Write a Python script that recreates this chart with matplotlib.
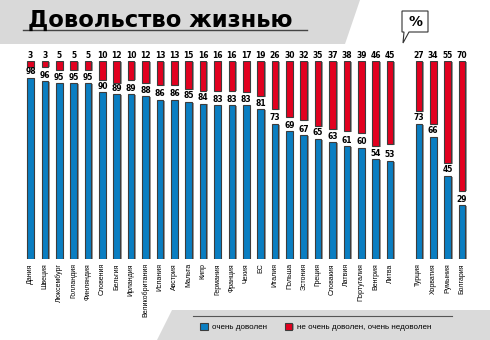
import matplotlib.pyplot as plt
import matplotlib.patheffects as pe
from matplotlib.patches import Polygon

# Данные: доля довольных / недовольных жизнью, %
countries = ['Дания', 'Швеция', 'Люксембург', 'Голландия', 'Финляндия', 'Словения',
             'Бельгия', 'Ирландия', 'Великобритания', 'Испания', 'Австрия', 'Мальта',
             'Кипр', 'Германия', 'Франция', 'Чехия', 'ЕС', 'Италия', 'Польша', 'Эстония',
             'Греция', 'Словакия', 'Латвия', 'Португалия', 'Венгрия', 'Литва']
candidates = ['Турция', 'Хорватия', 'Румыния', 'Болгария']

satisfied = [98, 96, 95, 95, 95, 90, 89, 89, 88, 86, 86, 85, 84, 83, 83, 83, 81,
             73, 69, 67, 65, 63, 61, 60, 54, 53,
             73, 66, 45, 29]
unsatisfied = [3, 3, 5, 5, 5, 10, 12, 10, 12, 13, 13, 15, 16, 16, 16, 17, 19,
               26, 30, 32, 35, 37, 38, 39, 46, 45,
               27, 34, 55, 70]

labels = countries + candidates
# одна пустая позиция между странами ЕС и кандидатами
xpos = list(range(len(countries))) + [len(countries) + 1 + i for i in range(len(candidates))]

blue = '#0a7ec2'
red = '#e2001f'
top = 107

W, H = 490, 340
fig = plt.figure(figsize=(W / 100, H / 100), dpi=100)

# фоновый слой в пикселях
bg = fig.add_axes([0, 0, 1, 1], zorder=-1)
bg.set_xlim(0, W)
bg.set_ylim(H, 0)
bg.axis('off')
bg.add_patch(Polygon([(0, 0), (360, 0), (345, 44), (0, 44)], closed=True,
                     facecolor='#d9d9d9', edgecolor='none'))
bg.add_patch(Polygon([(172, 310), (W, 310), (W, H), (157, H)], closed=True,
                     facecolor='#dadada', edgecolor='none'))
bg.plot([23, 307], [30, 30], color='#444444', lw=1.0, zorder=3)
bg.plot([193, 452], [316, 316], color='#555555', lw=0.8, zorder=3)
bg.text(28, 27, 'Довольство жизнью', fontsize=16.3, fontweight='bold',
        ha='left', va='baseline', color='black')
# значок "%"
bg.add_patch(Polygon([(402, 11), (428, 11), (428, 32), (409, 32), (403, 43), (404, 32), (402, 32)],
                     closed=True, facecolor='white', edgecolor='#333333', lw=0.8))
bg.text(415, 22, '%', fontsize=10, fontweight='bold', ha='center', va='center')

ax = fig.add_axes([23.3 / W, (H - 259) / H, 445.9 / W, 198 / H])
ax.patch.set_alpha(0)
ax.set_xlim(-0.5, xpos[-1] + 0.5)
ax.set_ylim(0, top)
for s in ax.spines.values():
    s.set_visible(False)
ax.set_yticks([])

shadow = [pe.SimplePatchShadow(offset=(1.2, -0.6), shadow_rgbFace='#9a9a9a', alpha=1.0), pe.Normal()]

b1 = ax.bar(xpos, satisfied, width=0.46, color=blue, edgecolor='#3c3c3c', lw=0.8,
            label='очень доволен')
b2 = ax.bar(xpos, unsatisfied, width=0.46, bottom=[top - v for v in unsatisfied],
            color=red, edgecolor='#3c3c3c', lw=0.8,
            label='не очень доволен, очень недоволен')
for p in list(b1) + list(b2):
    p.set_path_effects(shadow)

for x, v in zip(xpos, satisfied):
    ax.text(x, v + 0.8, str(v), ha='center', va='bottom', fontsize=5.5, fontweight='bold')
for x, v in zip(xpos, unsatisfied):
    ax.text(x, top + 0.8, str(v), ha='center', va='bottom', fontsize=5.5, fontweight='bold',
            clip_on=False)

ax.set_xticks(xpos)
ax.set_xticklabels(labels, rotation=90, fontsize=5, family='Liberation Sans')
ax.tick_params(axis='x', length=0, pad=3)

fig.legend(handles=[b1, b2], loc='center left', bbox_to_anchor=(193 / W, 1 - 327 / H),
           ncol=2, frameon=False, handlelength=0.9, handleheight=0.9,
           handletextpad=0.6, columnspacing=2.2, prop={'family': 'Liberation Sans', 'size': 5.8})

fig.savefig('out.png', dpi=100)
